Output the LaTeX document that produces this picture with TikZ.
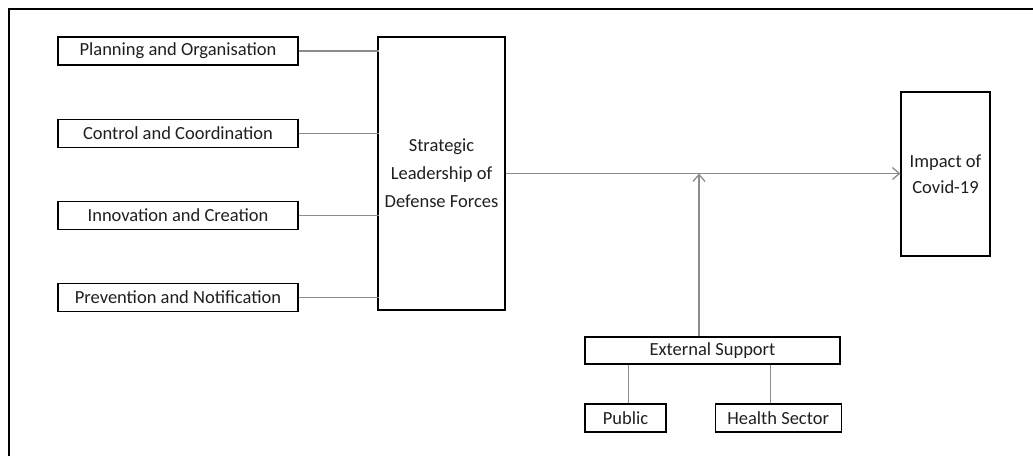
\documentclass[tikz,border=0pt]{standalone}
\usepackage{fontspec}
\setmainfont{Carlito}
\usetikzlibrary{arrows.meta,positioning}

\begin{document}
\begin{tikzpicture}[x=1pt, y=-1pt,
		box/.style={rectangle, draw, line width=1.2pt, inner sep=0pt, text centered, text=black!88, font=\fontsize{18.5}{28}\selectfont},
		factor/.style={box, minimum width=240pt, minimum height=28pt},
		link/.style={draw=black!45, line width=1.3pt},
		>={Straight Barb[length=7pt,width=12pt]}]
			\useasboundingbox (0,0) rectangle (1033,456);
			\draw [line width=2.8pt] (9,456) -- (9,9) -- (1033,9);
			
			\node[factor] (plan) at (178,51) {Planning and Organisation};
			\node[factor] (ctrl) [below=53pt of plan] {Control and Coordination};
			\node[factor] (innov) [below=53pt of ctrl] {Innovation and Creation};
			\node[factor] (prev) [below=53pt of innov] {Prevention and Notification};
			\node[box, align=center, minimum width=127pt, minimum height=273pt] (lead) at (441.5,173.5) {Strategic\\Leadership of\\Defense Forces};
			\node[box, align=center, minimum width=89pt, minimum height=164pt, font=\fontsize{18.5}{26}\selectfont] (covid) at (945.5,174) {Impact of\\Covid-19};
			
			\node[box, minimum width=255pt, minimum height=27pt] (ext) at (712.5,350.5) {External Support};
			\node[box, minimum width=81pt, minimum height=28pt] (pub) at (625.5,418) {Public};
			\node[box, minimum width=126pt, minimum height=28pt] (health) [right=48pt of pub] {Health Sector};
			
			\draw [link] (plan.east) -- ([xshift=2pt]plan.east -| lead.west);
			\draw [link] (ctrl.east) -- ([xshift=2pt]ctrl.east -| lead.west);
			\draw [link] (innov.east) -- ([xshift=2pt]innov.east -| lead.west);
			\draw [link] (prev.east) -- ([xshift=2pt]prev.east -| lead.west);
			
			\draw [link, ->] (lead.east) -- (lead.east -| covid.west);
			\coordinate (meet) at (699,173.5);
			\draw [link, ->] (ext.north -| meet) -- (meet);
			
			\draw [link] ([xshift=3pt]pub.north) -- ([xshift=3pt]pub.north |- ext.south);
			\draw [link] ([xshift=-8pt]health.north) -- ([xshift=-8pt]health.north |- ext.south);
		\end{tikzpicture}
\end{document}
